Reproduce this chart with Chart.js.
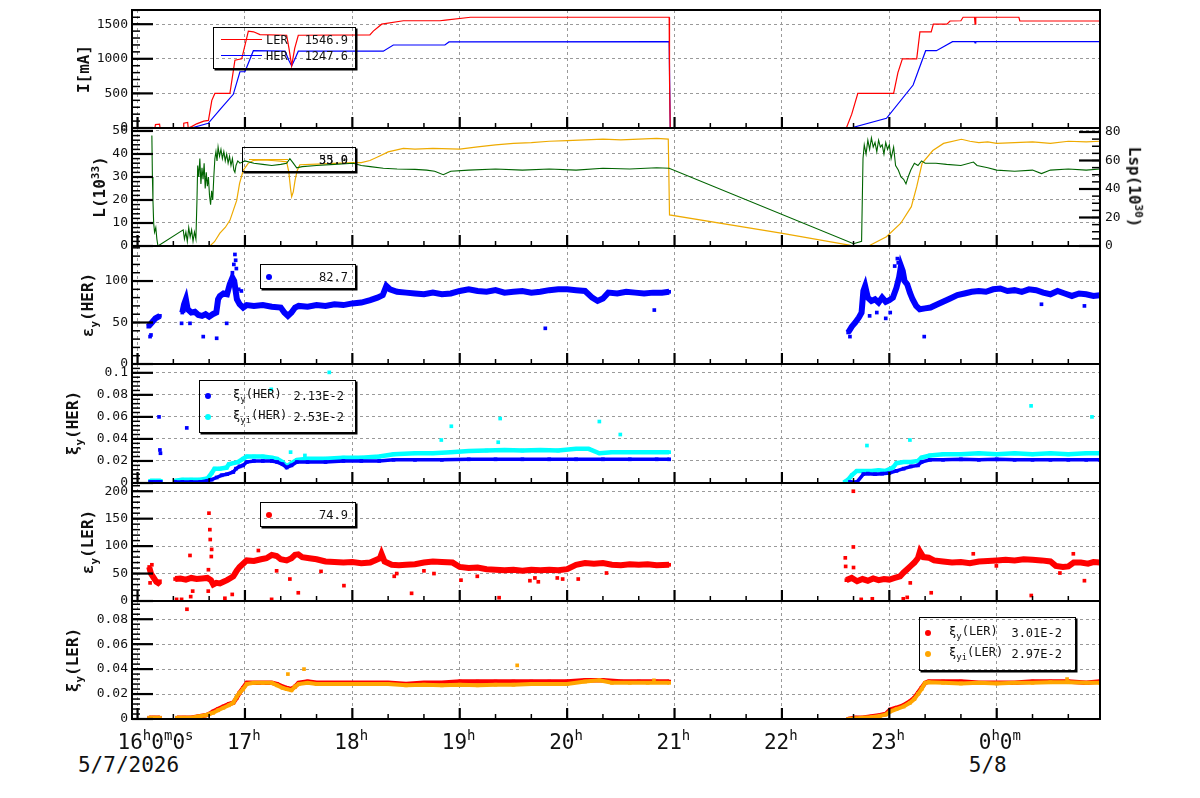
<!DOCTYPE html>
<html>
<head>
<meta charset="utf-8">
<script src="https://cdn.jsdelivr.net/npm/chart.js@4.4.0/dist/chart.umd.min.js"></script>
<style>
body { margin: 0; background: #fff; width: 1200px; height: 798px; overflow: hidden; position: relative; font-family: "DejaVu Sans Mono", monospace; color: #111; }
canvas { position: absolute; left: 0; }
.ttl { position: absolute; transform: translate(-50%, -50%) rotate(-90deg); font-size: 16px; font-weight: bold; white-space: nowrap; line-height: 1; z-index: 4; }
.ttl.r { transform: translate(-50%, -50%) rotate(90deg); }
.ttl sub, .ttl sup { font-size: 11px; }
.leg { position: absolute; border: 1px solid #000; box-shadow: 1.5px 1.5px 0 #000; font-size: 12px; z-index: 5; box-sizing: border-box; }
.leg .it { position: absolute; line-height: 1; transform: translateY(-50%); white-space: nowrap; }
.leg .ln { position: absolute; height: 1.3px; }
.leg .dot { position: absolute; width: 6px; height: 6px; border-radius: 50%; transform: translate(-50%, -50%); }
.leg sub { font-size: 9px; }
.xl { position: absolute; top: 732px; font-size: 21px; line-height: 1; white-space: nowrap; z-index: 4; }
.xl sup { font-size: 14px; vertical-align: baseline; position: relative; top: -9px; }
.dl { position: absolute; top: 755px; font-size: 21px; line-height: 1; white-space: nowrap; transform: translateX(-50%); }
</style>
</head>
<body>
<script>
// time in minutes after 16:00 (5/7/2026)
const hourTicks = [0, 60, 120, 180, 240, 300, 360, 420, 480];
const hourLabels = ['16<sup>h</sup>0<sup>m</sup>0<sup>s</sup>', '17<sup>h</sup>', '18<sup>h</sup>', '19<sup>h</sup>',
  '20<sup>h</sup>', '21<sup>h</sup>', '22<sup>h</sup>', '23<sup>h</sup>', '0<sup>h</sup>0<sup>m</sup>'];
const dateTicks = [0, 480];
const dateLabels = ['5/7/2026', '5/8'];

// y tick values per panel
const ticksI = [0, 500, 1000, 1500];
const ticksL = [0, 10, 20, 30, 40, 50];
const ticksLsp = [0, 20, 40, 60, 80];
const ticksEyHER = [0, 50, 100];
const ticksXiHER = [0, 0.02, 0.04, 0.06, 0.08, 0.1];
const ticksEyLER = [0, 50, 100, 150, 200];
const ticksXiLER = [0, 0.02, 0.04, 0.06, 0.08];

// beam currents [mA]
const curLER = [[-3.1,0],[9.7,0],[10,50],[12.3,55],[12.6,0],[25.5,0],[25.8,70],[28,80],[28.3,0],[30.2,20],[33,60],[37,100],[39.6,110],[41.5,400],[43.2,500],[51.6,500],[54.4,980],[58.2,1000],[61.9,1400],[64.8,1390],[68.4,1350],[83.3,1340],[84.6,1150],[86.1,900],[87.8,1150],[89.8,1340],[129.8,1345],[131.7,1400],[136.4,1500],[148.5,1550],[169,1550],[172,1560],[186,1600],[297,1600],[297.2,700],[297.6,0],[396,0],[399,200],[402.4,500],[422.4,500],[424.8,800],[427.3,1000],[435.3,1000],[437.1,1390],[443.4,1390],[444.6,1500],[452.2,1500],[453.9,1546],[460,1550],[461.2,1600],[467.6,1600],[467.9,1500],[468.3,1600],[492.4,1600],[492.9,1546],[537.7,1546]];
const curHER = [[-3.1,0],[30,0],[39.5,68],[46.5,280],[53.5,487],[57.2,813],[60,813],[64.7,1117],[82.4,1110],[84.5,980],[86.1,896],[88,1000],[89.8,1110],[137.3,1110],[142.9,1199],[171.7,1200],[174,1243],[297,1247],[297.6,0],[398.4,0],[418.4,140],[433.3,621],[440.3,1117],[446.3,1117],[455.3,1247],[467.6,1247],[467.9,1230],[468.3,1247],[537.7,1247]];

// luminosity L [1e33] and Lsp [1e30]
const lumL = [[8,48],[8.3,30],[8.6,20],[9,10],[9.5,6],[10.2,8],[10.8,3],[11.4,0],[25.5,7],[26.2,3],[27,6],[27.8,2],[28.6,8],[29.4,4],[30.2,7],[31,2],[31.8,6],[32.6,3],[33.2,20],[33.6,35],[34.2,30],[34.8,38],[35.4,27],[36,34],[36.6,29],[37.2,36],[37.8,25],[38.4,32],[39,26],[39.6,30],[40.2,22],[40.8,18],[41.4,24],[42,20],[42.6,30],[43.2,38],[43.8,41],[44.4,37],[45,43],[45.8,39],[46.6,42],[47.4,38],[48.2,41],[49,37],[49.8,40],[50.6,36],[51.4,39],[52.2,35],[53,38],[53.8,33],[54.4,32],[55,35],[56,37],[57.2,36],[60,37],[65,36],[70,35.5],[75,35],[80,35.5],[83.3,36],[85.1,38],[87,36],[88.9,34],[92,34.5],[100,35],[110,35.5],[120.5,36],[125,35],[130,34.5],[137.3,33.8],[145,33.5],[155,33.3],[161.5,33],[166,32.5],[170.8,31],[175,32.5],[185,33],[200,33.5],[215,33],[230,33.5],[245,33],[260,33.8],[275,33.5],[290,34],[297,33.8],[400,1],[404.5,2],[405.3,38],[406,44],[407,40],[408,46],[409,42],[410,47],[411,43],[412,45],[413,41],[414,46],[415,43],[416,44],[417,40],[418,45],[419,42],[420,44],[421,38],[422.4,43],[423.5,35],[425,33],[426.5,30],[428,29],[429.3,27],[430.5,30],[432,33],[434,36],[436,35],[438,37],[440,36],[446,36],[452,35.5],[460,35],[467,36.5],[469,35],[475,34],[480,33],[490,32.5],[500,33],[505,31.5],[510,33],[520,33.5],[530,33],[537.7,33.5]];
const lumLsp = [[8,0],[40.4,0],[43,3],[46,9],[49,13],[51.6,18],[53.5,25],[55.4,32],[57,44],[59,53],[61.8,58],[64.6,60],[70,60.5],[75,60],[80,59.5],[83.3,59],[84.5,52],[85.5,40],[86.1,34.6],[87,38],[88,46],[89.2,53],[90.7,57],[100,57.5],[110,58],[120.5,58.5],[125,58.5],[129.8,60],[135,63],[140,66],[148.5,68.5],[155,68],[165,68.5],[180,68],[190,69.5],[200,71],[210,72],[220,72.5],[230,73.5],[240,74],[250,74.5],[260,75],[270,74.5],[280,75],[290,75.5],[296.5,75],[297.2,21.8],[359.5,9],[398.4,0.5],[408.4,0],[418.4,6.5],[426.4,16],[432.3,27.6],[435.3,41.6],[438.3,58],[444.3,67],[450.3,72],[460.3,74.9],[465,73.5],[470,72.5],[475,73],[480,72],[490,72.5],[500,73],[510,72],[520,73.5],[530,73],[537.7,73.5]];

// vertical emittance HER
const eyHER = [[6,45],[8,50],[10,55],[12.5,58],[18,null],[25,62],[26,72],[27,78],[28,66],[30,62],[32,63],[34,59],[36,58],[38,60],[40,57],[42,60],[44,62],[45,78],[46,82],[48,85],[50,84],[51.5,96],[53,104],[54,100],[55.5,78],[57,72],[59,68],[61,71],[65,70],[70,71],[75,69],[80,68],[82,62],[84,58],[86,62],[88,68],[90,70],[95,69],[100,71],[105,70],[110,72],[115,71],[120,73],[125,74],[130,77],[134,80],[137,83],[139,94],[141,90],[145,87],[150,86],[155,85],[160,84],[165,86],[170,84],[175,85],[180,88],[185,90],[190,88],[195,87],[200,89],[205,86],[210,87],[215,88],[220,86],[225,87],[230,89],[235,90],[240,90],[245,89],[250,88],[254,80],[257,76],[260,79],[263,86],[268,85],[273,87],[278,86],[283,85],[288,86],[293,86],[297,87],
  [350,null],[397,38],[399,45],[401,50],[403,56],[404.5,62],[405.5,88],[406.5,94],[408,80],[410,76],[412,78],[414,74],[416,80],[418,75],[420,77],[422,80],[424,92],[425.5,105],[426.5,118],[427.5,112],[428.5,100],[430,96],[431.5,86],[433,78],[435,70],[437,66],[440,67],[443,68],[446,71],[450,75],[454,79],[458,83],[462,85],[466,87],[470,88],[474,87],[478,90],[482,91],[486,88],[490,89],[494,87],[498,90],[502,89],[506,86],[510,84],[514,88],[518,85],[522,82],[526,85],[530,84],[534,82],[537.7,83]];
const eyHERout = [[7,33],[7.5,35],[24.6,49],[29.3,49],[36.7,33],[44.2,31],[49.8,49],[53,110],[53.8,120],[54.4,132],[54.8,125],[55.2,115],[56.5,90],[58,88],[227.8,43],[288.7,65],[398,33],[409,58],[413,62],[418,55],[420.5,62],[423,118],[424.5,127],[425,122],[427,110],[439.5,33],[505,72],[529,70]];

// beam-beam parameter HER
const xiHER = [[7,0.001],[9,0.001],[11,0.001],[13,0.001],[17,null],[21,0.001],[25,0.001],[30,0.001],[35,0.001],[39,0.002],[41.4,0.003],[44.2,0.005],[47,0.007],[50,0.008],[53.5,0.010],[55,0.013],[57,0.015],[59,0.016],[61,0.019],[65,0.020],[70,0.020],[75,0.020],[78,0.019],[81,0.017],[83.3,0.014],[86,0.016],[89,0.019],[95,0.019],[105,0.019],[115,0.020],[125,0.020],[135,0.020],[143,0.021],[155,0.021],[170,0.021],[185,0.0215],[200,0.0215],[215,0.0215],[230,0.0215],[245,0.0215],[260,0.0215],[275,0.0215],[290,0.0215],[297,0.0215],
  [350,null],[398,0.001],[402,0.001],[405.5,0.008],[408,0.0085],[412,0.008],[416,0.0085],[420,0.009],[424,0.011],[428,0.013],[432,0.015],[436,0.016],[438,0.019],[442.7,0.021],[450,0.021],[460,0.0215],[470,0.021],[480,0.0215],[490,0.021],[500,0.021],[510,0.021],[520,0.021],[530,0.021],[537.7,0.021]];
const xiiHER = [[7,0.002],[9,0.002],[11,0.002],[13,0.002],[17,null],[21,0.002],[25,0.003],[30,0.003],[35,0.003],[39,0.004],[41.4,0.009],[43,0.013],[46,0.013],[49.8,0.014],[51,0.017],[53.5,0.018],[56,0.019],[59,0.022],[61,0.024],[65,0.024],[70,0.024],[75,0.023],[78,0.022],[81,0.019],[83.3,0.015],[86,0.018],[89,0.021],[95,0.022],[105,0.022],[115,0.023],[125,0.023],[135,0.024],[143,0.026],[155,0.027],[165,0.027],[175,0.028],[185,0.029],[195,0.0295],[205,0.030],[215,0.0295],[225,0.030],[235,0.0295],[245,0.031],[252,0.031],[258,0.027],[265,0.028],[275,0.028],[285,0.028],[297,0.028],
  [350,null],[395,0.001],[397,0.003],[399,0.007],[401.8,0.011],[406,0.011],[410,0.011],[414,0.0115],[418,0.011],[422,0.014],[424,0.018],[428,0.019],[432,0.019],[436,0.020],[438,0.023],[442.7,0.025],[450,0.026],[460,0.026],[470,0.027],[480,0.026],[490,0.027],[500,0.026],[510,0.027],[520,0.026],[530,0.027],[537.7,0.027]];
const xiHERout = [[12,0.060],[12.5,0.030],[12.8,0.027],[27.5,0.050]];
const xiiHERout = [[74.7,0.085],[85.5,0.028],[93.5,0.025],[107.1,0.1004],[169.7,0.039],[175.3,0.0515],[201.5,0.037],[202.6,0.0585],[258,0.0558],[269.7,0.044],[407.5,0.034],[431.5,0.039],[499.2,0.070],[533.2,0.060]];

// vertical emittance LER
const eyLER = [[6.5,62],[7.5,50],[8.5,45],[9.5,40],[10.5,35],[11.5,33],[12.5,36],[17,null],[21,40],[24,41],[27,39],[30,42],[33,40],[36,41],[39,42],[41,38],[42.3,30],[44,33],[46,32],[48,35],[50,38],[52,42],[53.5,45],[55.4,55],[57,62],[59,68],[61,74],[65,73],[69,76],[72,78],[75,84],[77.7,82],[80,76],[83.3,74],[86,78],[88,84],[89.8,85],[92,80],[96,78],[100,76],[105,72],[110,71],[115,70],[120,71],[125,69],[130,70],[135.4,78],[136.3,86],[138,72],[142,66],[146,65],[150,66],[155,67],[160,70],[165,72],[170,71],[176,70],[180,62],[185,60],[190,61],[195,58],[200,57],[205,56],[210,57],[215,55],[220,57],[225,56],[230,57],[235,56],[240,58],[245,66],[250,69],[255,68],[260,69],[265,66],[270,65],[275,67],[280,66],[285,67],[290,65],[297,66],
  [350,null],[396,38],[399,42],[402,36],[405,40],[408,37],[411,41],[414,38],[417,40],[420,39],[423,42],[426,45],[428,52],[430,58],[432,64],[434,70],[436,78],[437.1,90],[439,80],[442,79],[445,74],[450,72],[455,70],[460,71],[465,69],[470,72],[475,73],[480,74],[485,75],[490,74],[495,76],[500,75],[505,74],[510,72],[513,64],[517,62],[520,63],[523,70],[527,70],[531,68],[534,71],[537.7,70]];
const eyLERout = [[7,33],[8,66],[21.8,3],[24.6,3],[29.3,83],[29.7,8],[30.8,18],[39.9,160],[40.4,130],[40.6,112],[41.4,94],[41.2,81],[39.6,57],[39.5,18],[48.8,5],[52.9,12],[67.5,92],[74.9,3],[77.7,55],[85.1,40],[89.8,15],[102.5,54],[115.3,28],[143.4,45],[144.8,50],[153.1,14],[160,55],[165.6,50],[180.7,38],[189.8,45],[202,6],[219.2,37],[222,42],[223.9,35],[234.5,42],[237.5,40],[246.2,40],[262,51],
  [399.9,200],[399.9,98.5],[395.4,78.6],[395.6,63],[400,61],[404.3,3],[410.5,4],[427.8,4],[430,6.6],[431.7,33],[443.4,15],[466.9,86],[479.8,64],[499.3,10],[515.3,51],[522.8,86],[529,37]];

// beam-beam parameter LER
const xiLER = [[6.5,0.001],[9,0.001],[12.5,0.001],[17,null],[22,0.001],[26,0.001],[30,0.001],[34,0.002],[38,0.003],[40,0.004],[42.3,0.006],[45,0.008],[48,0.010],[51,0.012],[53.5,0.013],[55.4,0.017],[57,0.021],[59,0.025],[61,0.029],[65,0.029],[70,0.029],[75,0.029],[78,0.028],[81,0.026],[83.3,0.025],[86,0.024],[88,0.026],[90,0.029],[95,0.030],[100,0.029],[110,0.029],[120,0.029],[130,0.029],[140,0.029],[150,0.028],[160,0.029],[170,0.029],[180,0.030],[190,0.030],[200,0.030],[210,0.030],[220,0.030],[230,0.030],[240,0.030],[250,0.031],[260,0.031],[270,0.030],[280,0.030],[290,0.030],[297,0.030],
  [350,null],[397,0.000],[401,0.001],[405,0.001],[410,0.002],[414.8,0.003],[418,0.004],[420.4,0.0075],[424,0.009],[428,0.011],[431.5,0.014],[434,0.017],[436,0.021],[438,0.025],[440,0.029],[442,0.030],[450,0.030],[460,0.030],[470,0.029],[480,0.029],[490,0.029],[500,0.030],[510,0.030],[520,0.030],[530,0.029],[537.7,0.030]];
const xiiLER = [[6.5,0.001],[9,0.001],[12.5,0.001],[17,null],[22,0.001],[26,0.001],[30,0.001],[34,0.002],[38,0.003],[40,0.004],[42.3,0.005],[45,0.007],[48,0.009],[51,0.011],[53.5,0.013],[55.4,0.018],[57,0.021],[59,0.024],[61,0.028],[65,0.029],[70,0.029],[75,0.029],[78,0.027],[81,0.025],[83.3,0.024],[86,0.023],[88,0.026],[90,0.028],[95,0.029],[100,0.028],[110,0.028],[120,0.028],[130,0.028],[140,0.028],[150,0.027],[160,0.0275],[170,0.027],[180,0.0275],[190,0.027],[200,0.0275],[210,0.0275],[220,0.028],[230,0.028],[240,0.028],[250,0.030],[258,0.031],[265,0.029],[275,0.029],[285,0.029],[297,0.029],
  [350,null],[397,0.000],[401,0.0005],[405,0.001],[410,0.0015],[414.8,0.0025],[418,0.0035],[420.4,0.006],[424,0.008],[428,0.010],[431.5,0.013],[434,0.016],[436,0.020],[438,0.024],[440,0.029],[442,0.0295],[450,0.029],[460,0.0285],[470,0.029],[480,0.0285],[490,0.029],[500,0.029],[510,0.0295],[520,0.0295],[530,0.029],[537.7,0.029]];
const xiLERout = [[27.6,0.088]];
const xiiLERout = [[84,0.036],[93,0.040],[212.1,0.043],[288.5,0.031],[519.3,0.032]];

const FONT = '"DejaVu Sans Mono", monospace';
const PAD = 14;

// frame, inward ticks and minor ticks
const frame = {
  id: 'frame',
  afterDraw(chart, args, opts) {
    const { ctx, chartArea: a, scales } = chart;
    const seg = (x1, y1, x2, y2) => { ctx.beginPath(); ctx.moveTo(x1, y1); ctx.lineTo(x2, y2); ctx.stroke(); };
    ctx.save();
    ctx.strokeStyle = '#000';
    const x = scales.x;
    for (let v = 0; v <= x.max; v += 20) {
      const px = x.getPixelForValue(v);
      const major = v % 60 === 0;
      ctx.lineWidth = major ? 2.2 : 1.5;
      seg(px, a.bottom, px, a.bottom - (major ? 11 : 5));
    }
    for (const [id, step] of Object.entries(opts.minor || {})) {
      const s = scales[id];
      const right = s.position === 'right';
      const x0 = right ? a.right : a.left, dir = right ? -1 : 1;
      ctx.lineWidth = 1.5;
      for (let v = 0; v <= s.max; v += step) {
        const py = s.getPixelForValue(v);
        seg(x0, py, x0 + dir * 8, py);
      }
      ctx.lineWidth = 2.2;
      s.ticks.forEach(t => {
        const py = s.getPixelForValue(t.value);
        seg(x0, py, x0 + dir * 21, py);
      });
    }
    ctx.lineWidth = 2;
    ctx.strokeRect(a.left, a.top, a.right - a.left, a.bottom - a.top);
    ctx.restore();
  }
};

function yScale(min, max, tickVals, pos, fmt) {
  return {
    type: 'linear', position: pos, min, max,
    afterBuildTicks: s => { s.ticks = tickVals.map(v => ({ value: v })); },
    ticks: { padding: pos === 'left' ? 4 : 5, color: '#111',
      font: { family: FONT, size: 13 }, callback: fmt || (v => String(v)) },
    grid: { color: '#9a9a9a', lineWidth: 1, drawTicks: false, drawOnChartArea: pos === 'left' },
    border: { display: false, dash: [3, 3] },
    afterFit: s => { s.width = pos === 'left' ? 132 : 100; }
  };
}

function panel(top, h, scales, datasets, minor) {
  const c = document.createElement('canvas');
  c.width = 1200;
  c.height = h + 2 * PAD;
  c.style.top = (top - PAD) + 'px';
  document.body.appendChild(c);
  return new Chart(c, {
    type: 'line',
    data: { datasets },
    options: {
      responsive: false, animation: false, devicePixelRatio: 1,
      layout: { padding: { top: PAD, bottom: PAD, left: 0, right: scales.y2 ? 0 : 100 } },
      plugins: { legend: { display: false }, tooltip: { enabled: false }, frame: { minor } },
      scales: Object.assign({
        x: {
          type: 'linear', min: -3.1, max: 537.7,
          afterBuildTicks: s => { s.ticks = hourTicks.map(v => ({ value: v })); },
          ticks: { display: false },
          grid: { color: '#9a9a9a', lineWidth: 1, drawTicks: false },
          border: { display: false, dash: [3, 3] },
          afterFit: s => { s.height = 0; }
        }
      }, scales)
    },
    plugins: [frame]
  });
}

const line = (data, color, w, axis) => ({ data, borderColor: color, borderWidth: w, pointRadius: 0, tension: 0, spanGaps: false, yAxisID: axis || 'y' });
const band = (data, color, w) => ({ data, borderColor: color, backgroundColor: color, borderWidth: w, pointRadius: 2.6, pointStyle: 'rect', pointBorderWidth: 0, tension: 0, spanGaps: false });
const dots = (data, color) => ({ data, showLine: false, backgroundColor: color, borderColor: color, pointRadius: 2.6, pointStyle: 'rect', pointBorderWidth: 0 });
const fmt3 = v => String(+v.toFixed(3));

panel(10, 118, { y: yScale(0, 1705, ticksI, 'left') },
  [line(curLER, '#ff0000', 1.2), line(curHER, '#0000ff', 1.2)], { y: 100 });
panel(128, 118, { y: yScale(0, 51.3, ticksL, 'left'), y2: yScale(0, 82.8, ticksLsp, 'right') },
  [line(lumL, '#006400', 1.1), line(lumLsp, '#eeaa00', 1.2, 'y2')], { y: 2, y2: 5 });
panel(246, 118, { y: yScale(0, 142.2, ticksEyHER, 'left') },
  [dots(eyHERout, '#0000ff'), band(eyHER, '#0000ff', 6)], { y: 10 });
panel(364, 119, { y: yScale(0, 0.108, ticksXiHER, 'left', fmt3) },
  [dots(xiHERout, '#0000ff'), band(xiHER, '#0000ff', 3.5), dots(xiiHERout, '#00ffff'), band(xiiHER, '#00ffff', 4.5)], { y: 0.004 });
panel(483, 118, { y: yScale(0, 215, ticksEyLER, 'left') },
  [dots(eyLERout, '#ff0000'), band(eyLER, '#ff0000', 6)], { y: 10 });
const last = panel(601, 118, { y: yScale(0, 0.0946, ticksXiLER, 'left', fmt3) },
  [dots(xiiLERout, '#ffa500'), band(xiiLER, '#ffa500', 4), dots(xiLERout, '#ff0000'), band(xiLER, '#ff0000', 4.5)], { y: 0.004 });

// time axis labels placed from the chart's own x scale
const xs = last.scales.x;
hourTicks.forEach((v, i) => {
  const d = document.createElement('div');
  d.className = 'xl';
  d.innerHTML = hourLabels[i];
  d.style.left = (xs.getPixelForValue(v) - (i === 0 ? 20 : 18)) + 'px';
  document.body.appendChild(d);
});
dateTicks.forEach((v, i) => {
  const d = document.createElement('div');
  d.className = 'dl';
  d.textContent = dateLabels[i];
  d.style.left = (xs.getPixelForValue(v) - 9) + 'px';
  document.body.appendChild(d);
});

// axis titles
const titles = [
  [84, 69, 'I[mA]', ''], [99, 187, 'L(10<sup>33</sup>)', ''], [90, 305, '&epsilon;<sub>y</sub>(HER)', ''],
  [75, 423, '&xi;<sub>y</sub>(HER)', ''], [90, 542, '&epsilon;<sub>y</sub>(LER)', ''], [75, 660, '&xi;<sub>y</sub>(LER)', ''],
  [1135, 187, 'Lsp(10<sup>30</sup>)', 'r']
];
titles.forEach(([x, y, html, cls]) => {
  const d = document.createElement('div');
  d.className = 'ttl ' + cls;
  d.innerHTML = html;
  d.style.left = x + 'px';
  d.style.top = y + 'px';
  document.body.appendChild(d);
});

// legend boxes
function legend(left, top, w, h, items) {
  const b = document.createElement('div');
  b.className = 'leg';
  Object.assign(b.style, { left: left + 'px', top: top + 'px', width: w + 'px', height: h + 'px' });
  b.innerHTML = items.join('');
  document.body.appendChild(b);
}
const ln = (x, y, w, c) => `<div class="ln" style="left:${x}px;top:${y}px;width:${w}px;background:${c}"></div>`;
const dot = (x, y, c) => `<div class="dot" style="left:${x}px;top:${y}px;background:${c}"></div>`;
const txt = (x, y, s, right) => `<div class="it" style="${right ? 'right' : 'left'}:${x}px;top:${y}px">${s}</div>`;

legend(213, 27, 143, 42, [ln(7, 11, 41, '#ff0000'), txt(52, 12, 'LER'), txt(7, 12, '1546.9', 1),
  ln(7, 27, 41, '#0000ff'), txt(52, 28, 'HER'), txt(7, 28, '1247.6', 1)]);
legend(242, 147, 114, 25, [ln(6, 11, 39, '#eeaa00'), txt(7, 12, '33.9', 1), txt(7, 12, '55.0', 1)]);
legend(260, 264, 96, 25, [dot(8, 12, '#0000ff'), txt(7, 12, '82.7', 1)]);
legend(199, 380, 157, 53, [dot(8, 15, '#0000ff'), txt(33, 15, '&xi;<sub>y</sub>(HER)'), txt(11, 15, '2.13E-2', 1),
  dot(8, 36, '#00ffff'), txt(33, 36, '&xi;<sub>yi</sub>(HER)'), txt(11, 36, '2.53E-2', 1)]);
legend(260, 502, 96, 25, [dot(8, 12, '#ff0000'), txt(7, 12, '74.9', 1)]);
legend(919, 617, 157, 54, [dot(8, 15, '#ff0000'), txt(29, 15, '&xi;<sub>y</sub>(LER)'), txt(13, 15, '3.01E-2', 1),
  dot(8, 36, '#ffa500'), txt(29, 36, '&xi;<sub>yi</sub>(LER)'), txt(13, 36, '2.97E-2', 1)]);
</script>
</body>
</html>
